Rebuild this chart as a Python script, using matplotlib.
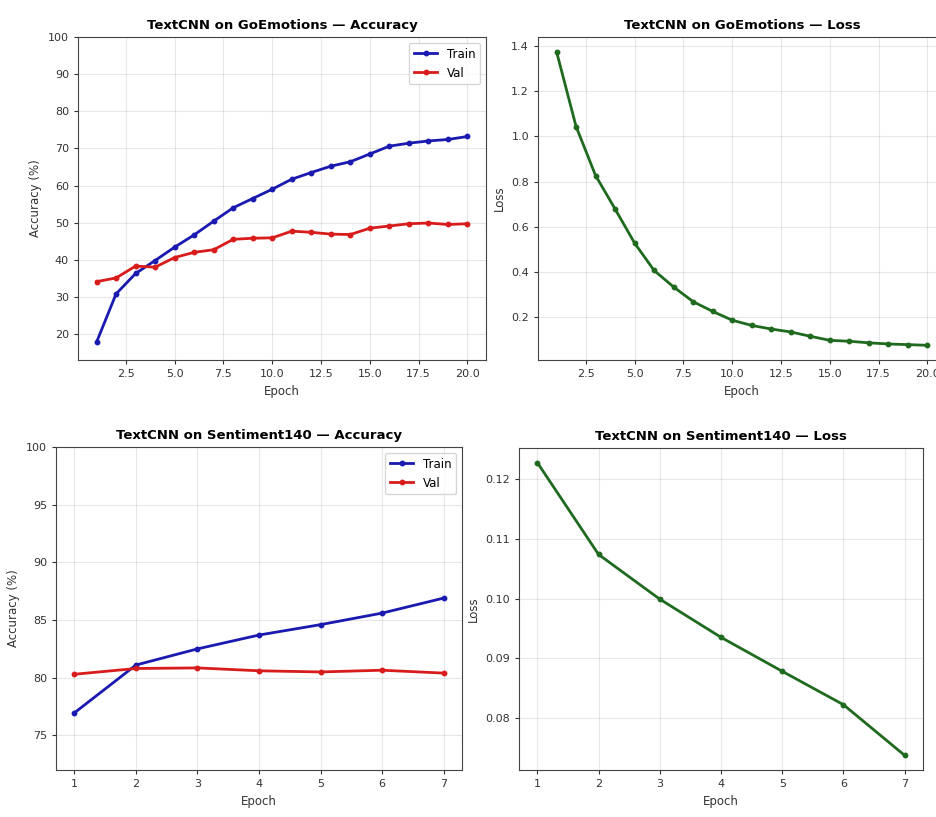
import matplotlib

matplotlib.use("Agg")

import matplotlib.pyplot as plt

# epochs
GO_EPOCHS = list(range(1, 21))
S140_EPOCHS = list(range(1, 8))

# GoEmotions
GO_TRAIN_ACC = [17.8, 30.8, 36.3, 39.8, 43.4, 46.7, 50.4, 54.0, 56.5, 59.0,
                61.7, 63.5, 65.2, 66.4, 68.5, 70.6, 71.4, 72.0, 72.4, 73.2]
GO_VAL_ACC = [34.1, 35.1, 38.3, 38.0, 40.6, 42.0, 42.7, 45.5, 45.8, 45.9,
              47.7, 47.4, 46.9, 46.8, 48.5, 49.1, 49.7, 49.9, 49.5, 49.7]
GO_LOSS = [1.375, 1.044, 0.827, 0.679, 0.528, 0.407, 0.334, 0.269, 0.226, 0.187,
           0.164, 0.148, 0.135, 0.116, 0.098, 0.094, 0.087, 0.082, 0.079, 0.076]

# Sentiment140
S140_TRAIN_ACC = [76.96, 81.1, 82.5, 83.7, 84.6, 85.6, 86.9]
S140_VAL_ACC = [80.3, 80.8, 80.85, 80.6, 80.5, 80.65, 80.4]
S140_LOSS = [0.1228, 0.1074, 0.0999, 0.0935, 0.0878, 0.0822, 0.0737]

plt.rcParams["font.family"] = "DejaVu Sans"
plt.rcParams["font.size"] = 8

TRAIN_COLOR = "#1a1ab0"
VAL_COLOR = "#d81c1c"
LOSS_COLOR = "#1f6a1f"


def style_axes(ax, title, ylabel):
    ax.set_title(title, fontsize=9.5, fontweight="bold", pad=6)
    ax.set_xlabel("Epoch", fontsize=8.5, color="#333333")
    ax.set_ylabel(ylabel, fontsize=8.5, color="#333333")
    ax.grid(True, alpha=0.3)
    ax.tick_params(labelsize=8, colors="#333333", length=3)
    for s in ax.spines.values():
        s.set_color("#444444")


def acc_plot(ax, epochs, train, val, title):
    ax.plot(epochs, train, "-o", color=TRAIN_COLOR, lw=2, ms=3.2, label="Train")
    ax.plot(epochs, val, "-o", color=VAL_COLOR, lw=2, ms=3.2, label="Val")
    style_axes(ax, title, "Accuracy (%)")
    ax.legend(loc="upper right", fontsize=8.5)


def loss_plot(ax, epochs, loss, title):
    ax.plot(epochs, loss, "-o", color=LOSS_COLOR, lw=2, ms=3.2)
    style_axes(ax, title, "Loss")


fig = plt.figure(figsize=(9.36, 8.17), dpi=100)
W, H = 936, 817


def place(x0, y0, x1, y1):
    return fig.add_axes([x0 / W, 1 - y1 / H, (x1 - x0) / W, (y1 - y0) / H])


ax1 = place(78, 37, 486, 360)
acc_plot(ax1, GO_EPOCHS, GO_TRAIN_ACC, GO_VAL_ACC, "TextCNN on GoEmotions — Accuracy")
ax1.set_ylim(13, 100)

# the right panel runs past the figure edge in the reference, as cropped there
ax2 = place(538, 37, 946, 360)
loss_plot(ax2, GO_EPOCHS, GO_LOSS, "TextCNN on GoEmotions — Loss")

ax3 = place(56, 447, 462, 770)
acc_plot(ax3, S140_EPOCHS, S140_TRAIN_ACC, S140_VAL_ACC, "TextCNN on Sentiment140 — Accuracy")
ax3.set_ylim(72, 100)

ax4 = place(519, 448, 923, 770)
loss_plot(ax4, S140_EPOCHS, S140_LOSS, "TextCNN on Sentiment140 — Loss")

fig.savefig("out.png", dpi=100)
